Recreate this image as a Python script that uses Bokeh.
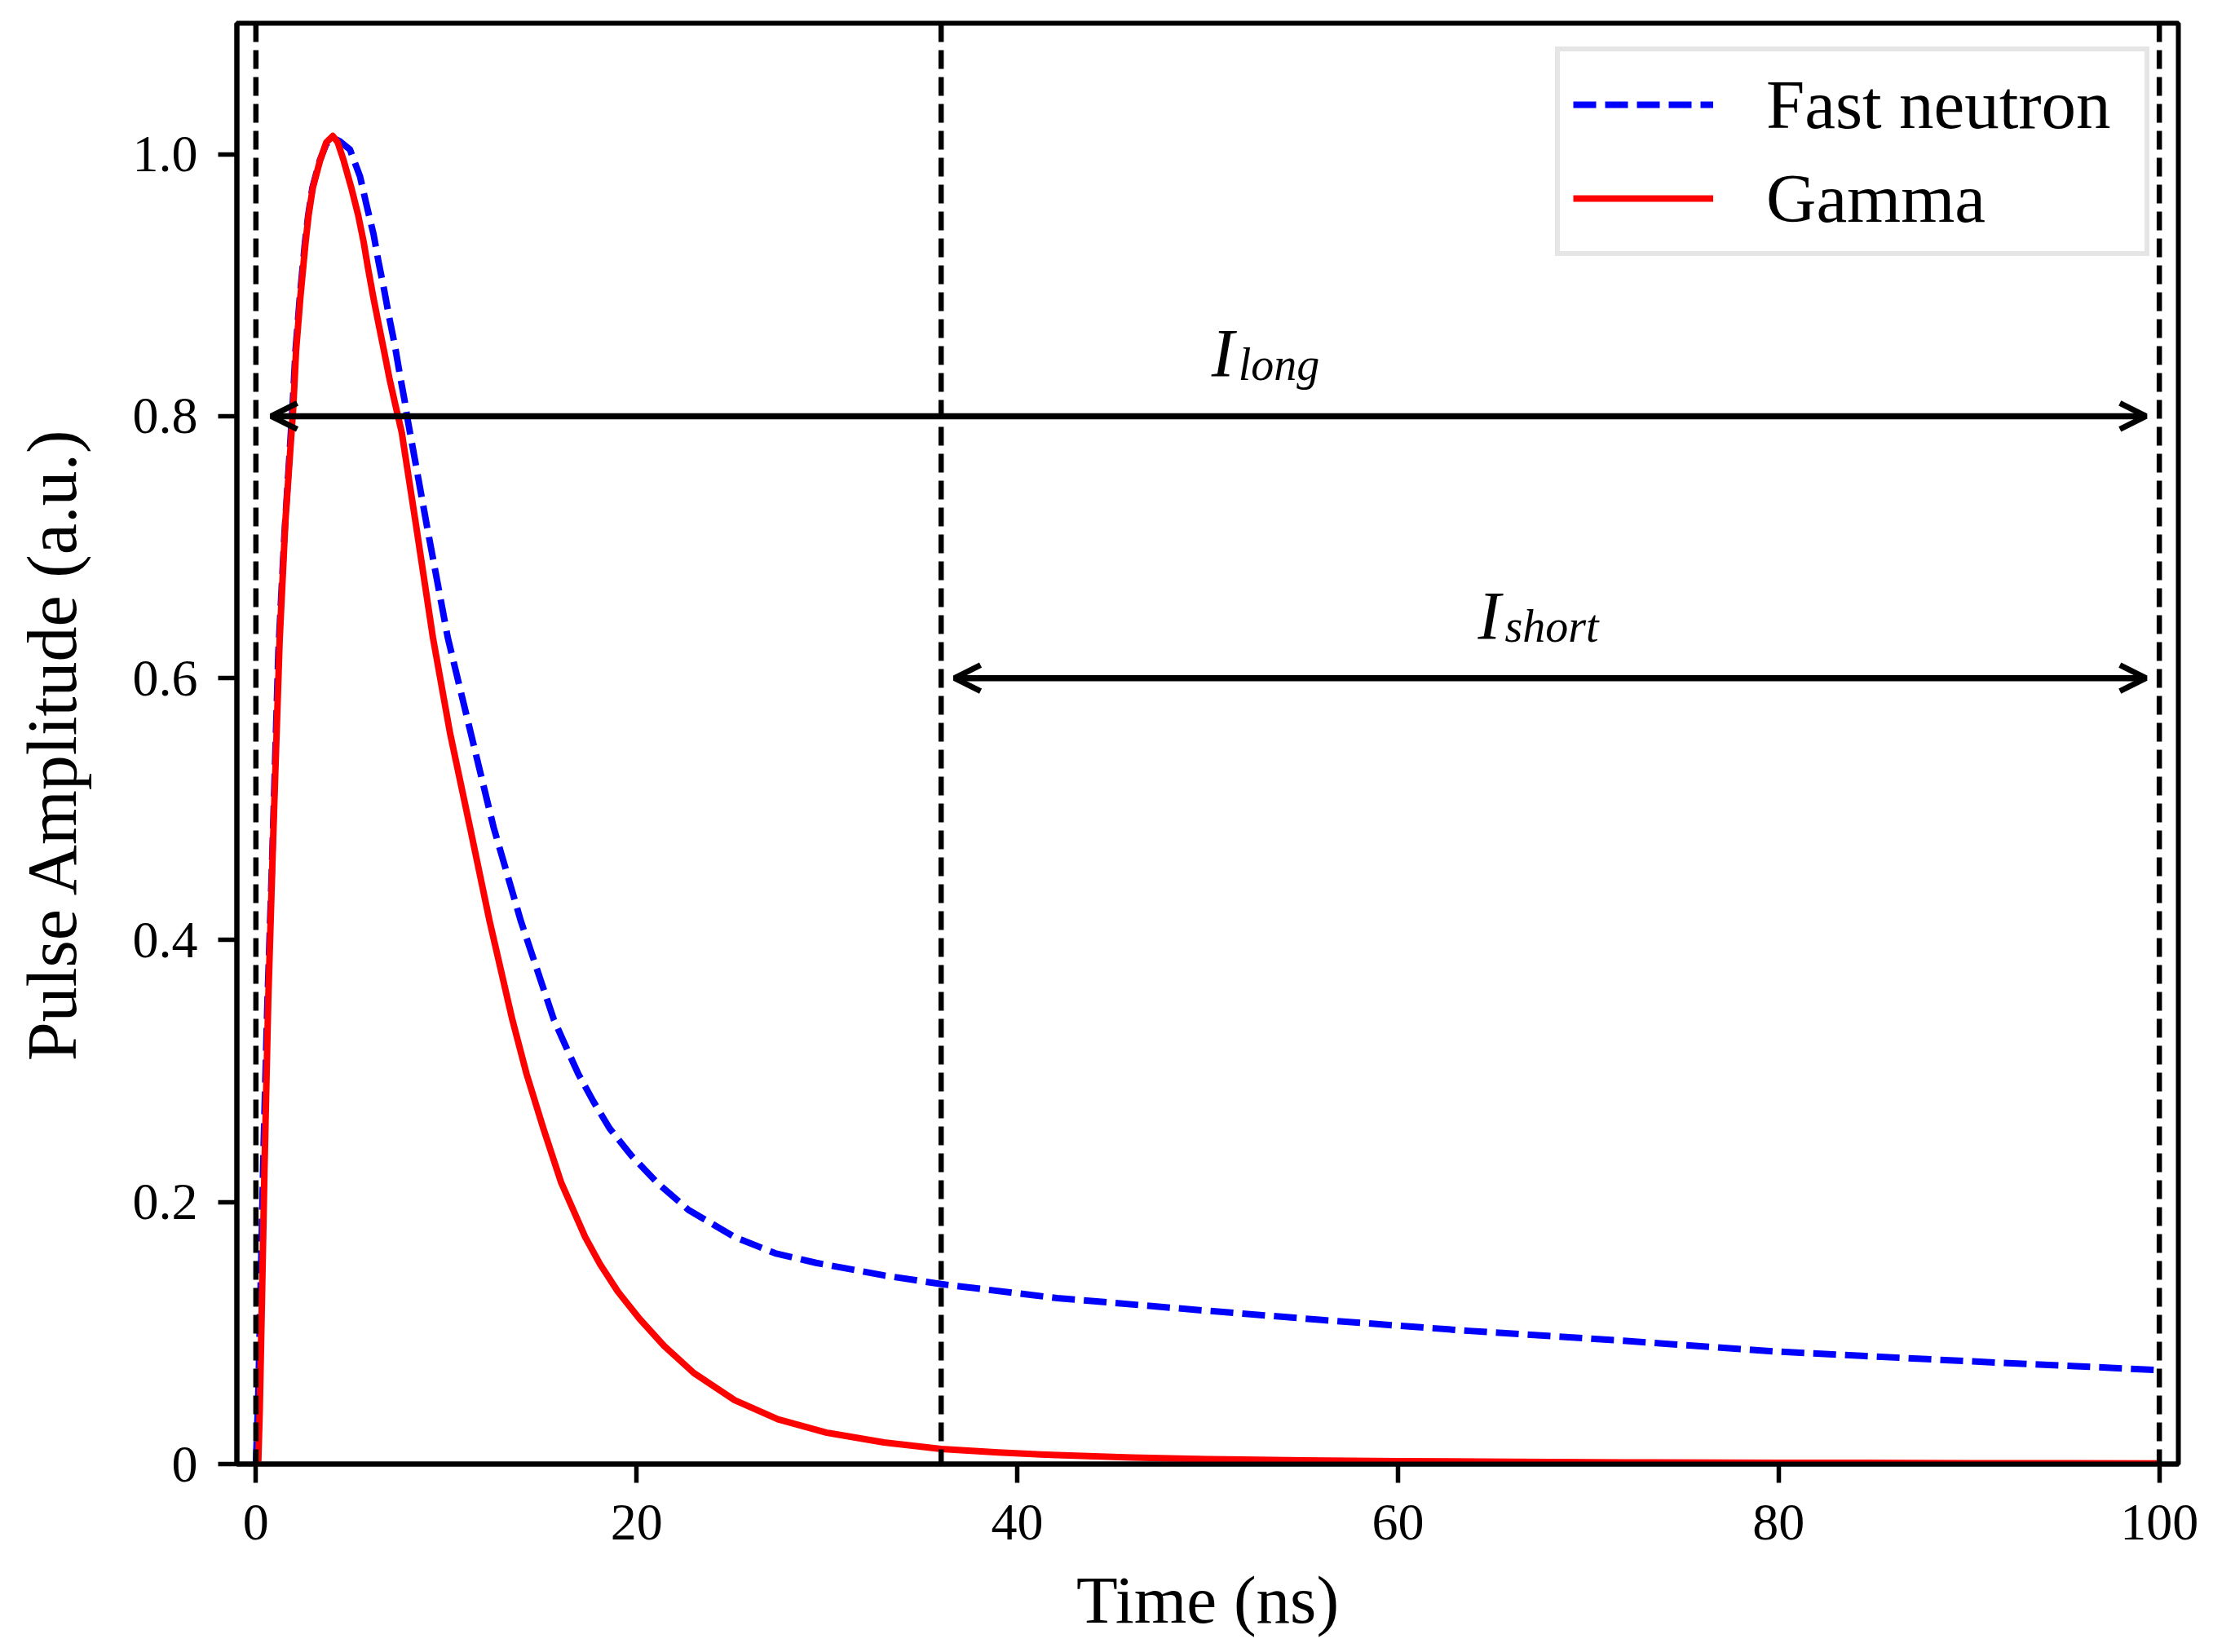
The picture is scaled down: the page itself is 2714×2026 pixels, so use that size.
from bokeh.plotting import figure
from bokeh.models import Range1d, FixedTicker, Span, Arrow, OpenHead, Legend, LegendItem
from bokeh.core.properties import value
from bokeh.embed import file_html
from bokeh.resources import INLINE

# ---- data ----
neutron_time = [0.0, 0.12, 0.27, 0.4, 0.6, 0.85, 1.18, 1.5, 1.93, 2.08, 2.31, 2.58, 2.75,
                2.97, 3.35, 3.7, 4.1, 4.4, 4.94, 5.47, 5.80, 6.18, 6.44, 6.73, 7.01, 7.30,
                7.56, 7.83, 7.94, 9.0, 10.08, 11.29, 12.49, 13.91, 15.65, 16.29, 16.94,
                17.72, 18.58, 19.72, 21.08, 22.72, 25.15, 27.29, 29.43, 33.0, 36.0, 42.1,
                50.0, 56.0, 63.7, 72.0, 80.0, 90.0, 100.0]
neutron_amp = [0.0, 0.05, 0.15, 0.24, 0.35, 0.46, 0.62, 0.71, 0.8085, 0.85, 0.8915, 0.933,
               0.9537, 0.9745, 0.995, 1.008, 1.012, 1.01, 1.0036, 0.983, 0.962, 0.939, 0.918,
               0.897, 0.875, 0.854, 0.832, 0.8105, 0.80, 0.715, 0.631, 0.558, 0.486, 0.415,
               0.3394, 0.3186, 0.2978, 0.2771, 0.2563, 0.2356, 0.2148, 0.1941, 0.1733,
               0.1609, 0.1536, 0.144, 0.1374, 0.1267, 0.117, 0.110, 0.1017, 0.094, 0.0858,
               0.0785, 0.0717]

gamma_time = [0.12, 0.2, 0.33, 0.45, 0.65, 0.9, 1.25, 1.55, 1.97, 2.11, 2.34, 2.61, 2.77,
              2.99, 3.37, 3.7, 4.04, 4.3, 4.61, 5.01, 5.37, 5.66, 5.90, 6.16, 6.44, 6.73,
              7.01, 7.33, 7.66, 8.4, 9.3, 10.2, 11.25, 12.27, 13.47, 14.22, 15.1, 16.04,
              17.30, 18.08, 19.01, 20.15, 21.44, 23.01, 25.15, 27.43, 30.0, 33.0, 36.0,
              39.0, 42.1, 46.0, 50.0, 55.0, 60.0, 66.0, 72.0, 80.0, 90.0, 100.0]
gamma_amp = [0.0, 0.04, 0.135, 0.225, 0.355, 0.475, 0.63, 0.72, 0.8085, 0.85, 0.8915, 0.933,
             0.9537, 0.9745, 0.9952, 1.009, 1.0139, 1.009, 0.9952, 0.9745, 0.9537, 0.933,
             0.9122, 0.8915, 0.8707, 0.85, 0.8292, 0.8085, 0.7877, 0.718, 0.631, 0.558,
             0.486, 0.415, 0.3394, 0.2978, 0.2563, 0.2148, 0.1733, 0.1526, 0.1318, 0.111,
             0.0903, 0.0695, 0.0488, 0.0342, 0.0239, 0.0165, 0.0115, 0.0088, 0.0068, 0.005,
             0.0037, 0.0028, 0.0022, 0.0017, 0.0013, 0.001, 0.0007, 0.0005]

series_labels = ["Fast neutron", "Gamma"]
window_edges = [0, 36, 100]
x_ticks = [0, 20, 40, 60, 80, 100]
y_ticks = [0, 0.2, 0.4, 0.6, 0.8, 1.0]
y_tick_labels = ["0", "0.2", "0.4", "0.6", "0.8", "1.0"]

interval_names = ["long", "short"]
interval_start = [0.8, 36.7]
interval_end = [99.3, 99.3]
interval_level = [0.8, 0.6]
label_x = [50.2, 64.2]
label_y = [0.834, 0.634]

FONT = "Liberation Serif"

p = figure(width=2698, height=2010, output_backend="svg", toolbar_location=None,
           x_range=Range1d(-1, 101), y_range=Range1d(0, 1.1),
           min_border_left=290, min_border_right=27, min_border_top=28,
           min_border_bottom=215)
p.grid.visible = False
p.background_fill_color = "white"
p.border_fill_color = "white"
p.outline_line_color = "black"
p.outline_line_width = 6
p.outline_line_alpha = 1

for ax in (p.xaxis[0], p.yaxis[0]):
    ax.axis_line_color = "black"
    ax.axis_line_width = 6
    ax.major_tick_out = 23
    ax.major_tick_in = 0
    ax.major_tick_line_width = 5.5
    ax.major_tick_line_color = "black"
    ax.minor_tick_line_color = None
    ax.major_label_text_font = FONT
    ax.major_label_text_font_size = "64px"
    ax.major_label_text_color = "black"
    ax.axis_label_text_font = FONT
    ax.axis_label_text_font_style = "normal"
    ax.axis_label_text_color = "black"

p.xaxis.axis_label_text_font_size = "83px"
p.yaxis.axis_label_text_font_size = "86px"
p.xaxis.ticker = FixedTicker(ticks=x_ticks)
p.yaxis.ticker = FixedTicker(ticks=y_ticks)
p.yaxis.major_label_overrides = dict(zip(y_ticks, y_tick_labels))
p.xaxis.axis_label = "Time (ns)"
p.yaxis.axis_label = "Pulse Amplitude (a.u.)"
p.xaxis.major_label_standoff = 27
p.yaxis.major_label_standoff = 25
p.xaxis.axis_label_standoff = 25
p.yaxis.axis_label_standoff = 48

r_n = p.line(neutron_time, neutron_amp, line_color="blue", line_width=8,
             line_dash="28 11", line_join="round")
r_g = p.line(gamma_time, gamma_amp, line_color="red", line_width=8, line_join="round")

for edge in window_edges:
    p.add_layout(Span(location=edge, dimension="height", line_color="black",
                      line_width=6.5, line_dash="23 10"))

for i in range(len(interval_names)):
    p.add_layout(Arrow(start=OpenHead(size=32, line_width=7, line_color="black"),
                       end=OpenHead(size=32, line_width=7, line_color="black"),
                       x_start=interval_start[i], y_start=interval_level[i],
                       x_end=interval_end[i], y_end=interval_level[i],
                       line_width=7.5, line_color="black"))

p.text(x=label_x, y=label_y, text=["I", "I"], text_font=value(FONT),
       text_font_style="italic", text_font_size="84px", text_color="black",
       text_align="left", text_baseline="alphabetic", y_offset=-22)
p.text(x=label_x, y=label_y, text=interval_names, text_font=value(FONT),
       text_font_style="italic", text_font_size="56px", text_color="black",
       text_align="left", text_baseline="alphabetic", x_offset=33, y_offset=-9)

legend = Legend(items=[LegendItem(label=series_labels[0], renderers=[r_n]),
                       LegendItem(label=series_labels[1], renderers=[r_g])],
                location=(1617, 1481), margin=0, padding=16, spacing=17,
                glyph_width=172, glyph_height=96, label_height=96, label_width=448,
                label_standoff=65, label_text_font=FONT, label_text_font_size="85px",
                label_text_color="black",
                border_line_color="#cccccc", border_line_width=6,
                background_fill_color="white", background_fill_alpha=1)
p.add_layout(legend)

open("out.html", "w").write(file_html(p, INLINE))
